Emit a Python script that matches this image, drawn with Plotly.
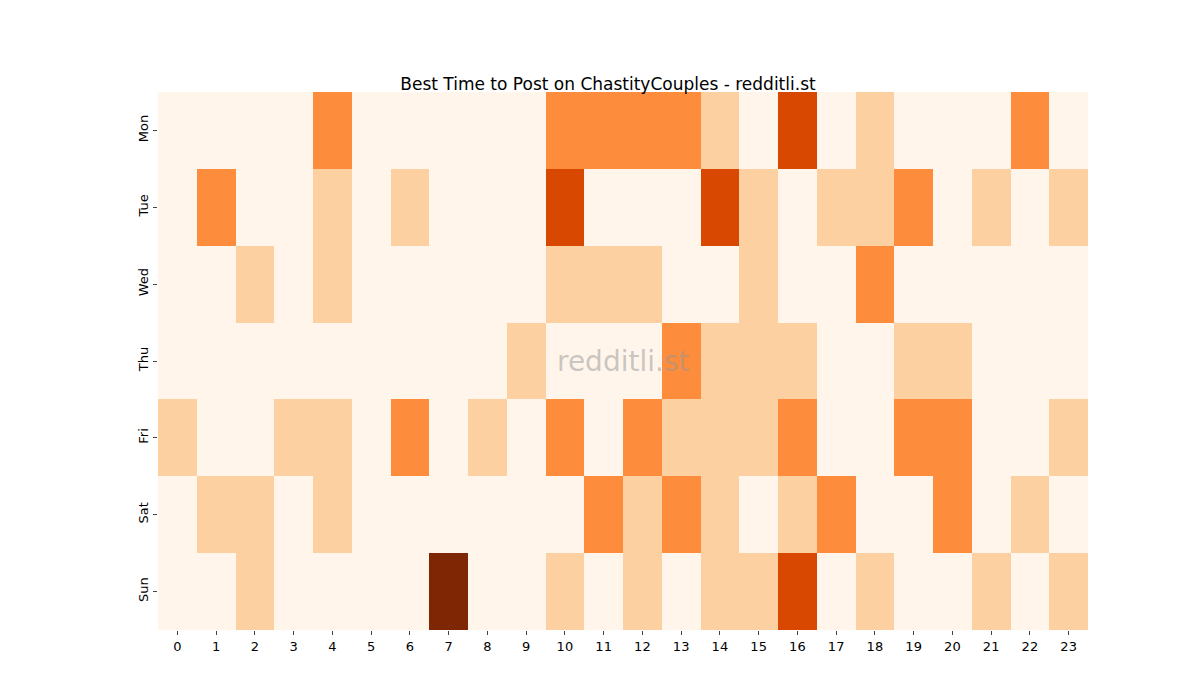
import plotly.graph_objects as go

hours = [str(h) for h in range(24)]
days = ["Mon", "Tue", "Wed", "Thu", "Fri", "Sat", "Sun"]

mon = [0, 0, 0, 0, 2, 0, 0, 0, 0, 0, 2, 2, 2, 2, 1, 0, 3, 0, 1, 0, 0, 0, 2, 0]
tue = [0, 2, 0, 0, 1, 0, 1, 0, 0, 0, 3, 0, 0, 0, 3, 1, 0, 1, 1, 2, 0, 1, 0, 1]
wed = [0, 0, 1, 0, 1, 0, 0, 0, 0, 0, 1, 1, 1, 0, 0, 1, 0, 0, 2, 0, 0, 0, 0, 0]
thu = [0, 0, 0, 0, 0, 0, 0, 0, 0, 1, 0, 0, 0, 2, 1, 1, 1, 0, 0, 1, 1, 0, 0, 0]
fri = [1, 0, 0, 1, 1, 0, 2, 0, 1, 0, 2, 0, 2, 1, 1, 1, 2, 0, 0, 2, 2, 0, 0, 1]
sat = [0, 1, 1, 0, 1, 0, 0, 0, 0, 0, 0, 2, 1, 2, 1, 0, 1, 2, 0, 0, 2, 0, 1, 0]
sun = [0, 0, 1, 0, 0, 0, 0, 4, 0, 0, 1, 0, 1, 0, 1, 1, 3, 0, 1, 0, 0, 1, 0, 1]

z = [mon, tue, wed, thu, fri, sat, sun]

# palette Oranges discrète
scale = [
    [0.0, "#fff5eb"], [0.125, "#fff5eb"],
    [0.125, "#fdd0a2"], [0.375, "#fdd0a2"],
    [0.375, "#fd8d3c"], [0.625, "#fd8d3c"],
    [0.625, "#d94801"], [0.875, "#d94801"],
    [0.875, "#7f2704"], [1.0, "#7f2704"],
]

fig = go.Figure(go.Heatmap(
    z=z, x=hours, y=days, colorscale=scale, zmin=0, zmax=4,
    showscale=False, xgap=0, ygap=0,
))

fig.add_annotation(text="redditli.st", x=0.5, y=0.5, xref="paper", yref="paper",
                   showarrow=False, font=dict(size=28, color="rgba(150,150,150,0.5)"))

fig.update_layout(
    title=dict(text="Best Time to Post on ChastityCouples - redditli.st", x=0.5, y=0.9,
               font=dict(size=17, color="black")),
    width=1200, height=700,
    margin=dict(l=150, r=120, t=84, b=78),
    plot_bgcolor="white", paper_bgcolor="white",
    font=dict(family="DejaVu Sans", size=13, color="black"),
    xaxis=dict(ticks="outside", ticklen=4, showgrid=False, tickangle=0),
    yaxis=dict(autorange="reversed", ticks="outside", ticklen=4, showgrid=False, tickangle=-90),
)

fig.write_html("out.html")
